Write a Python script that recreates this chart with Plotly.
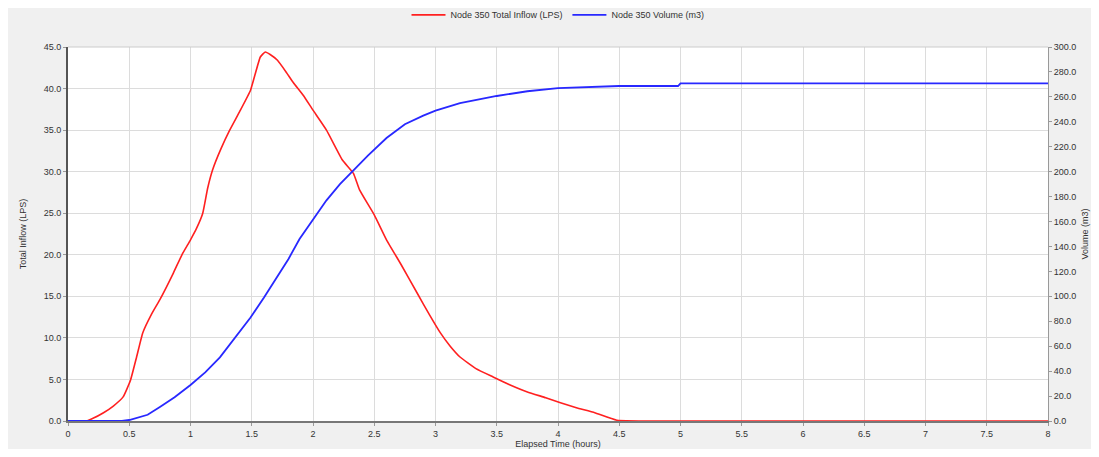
import plotly.graph_objects as go

# Node inflow (LPS) vs elapsed time (hours)
t_inflow = [0, 0.15, 0.2, 0.29, 0.37, 0.45, 0.51, 0.56, 0.61, 0.68, 0.75, 0.86, 0.93, 1.0, 1.05,
            1.10, 1.14, 1.18, 1.25, 1.32, 1.40, 1.49, 1.57, 1.61, 1.65, 1.71, 1.78, 1.84, 1.92,
            2.0, 2.11, 2.24, 2.33, 2.38, 2.5, 2.6, 2.72, 2.85, 2.95, 3.04, 3.12, 3.2, 3.33,
            3.47, 3.6, 3.75, 3.9, 4.02, 4.15, 4.3, 4.48, 5, 6, 7, 8]
inflow = [0, 0, 0.3, 1.0, 1.8, 2.9, 4.9, 7.7, 10.6, 12.8, 14.6, 17.8, 20.0, 21.8, 23.2,
          25.0, 28.0, 30.2, 32.8, 35.0, 37.2, 39.8, 43.8, 44.4, 44.1, 43.4, 42.0, 40.7, 39.2,
          37.4, 35.0, 31.4, 29.8, 27.8, 24.8, 21.8, 18.8, 15.4, 12.8, 10.6, 9.0, 7.7, 6.3,
          5.3, 4.4, 3.5, 2.8, 2.2, 1.6, 1.0, 0.1, 0, 0, 0, 0]

# Node volume (m3) vs elapsed time (hours)
t_volume = [0, 0.44, 0.5, 0.55, 0.65, 0.75, 0.87, 1.0, 1.12, 1.24, 1.36, 1.49, 1.6, 1.71, 1.8,
            1.89, 2.0, 2.11, 2.22, 2.33, 2.45, 2.6, 2.75, 2.9, 3.0, 3.2, 3.5, 3.75, 4.0, 4.5,
            4.98, 5.0, 8]
volume = [0, 0, 0.8, 2, 5, 11.2, 19, 28.9, 39, 51, 66, 83, 99, 115.5, 130, 146, 162, 177, 190,
          201, 213, 227, 238, 245, 249, 255, 260.7, 264.5, 267, 268.7, 268.7, 270.8, 270.8]

x_ticks = [i * 0.5 for i in range(17)]
x_labels = ["0", "0.5", "1", "1.5", "2", "2.5", "3", "3.5", "4", "4.5", "5", "5.5", "6",
            "6.5", "7", "7.5", "8"]
y_ticks = [i * 5 for i in range(10)]
y_labels = [f"{v:.1f}" for v in y_ticks]
y2_ticks = [i * 20 for i in range(16)]
y2_labels = [f"{v:.1f}" for v in y2_ticks]

font = dict(family="Liberation Sans, Arial, sans-serif", size=9, color="#333333")

fig = go.Figure()
fig.add_trace(go.Scatter(x=t_inflow, y=inflow, mode="lines", name="Node 350 Total Inflow (LPS)",
                         line=dict(color="#ff2020", width=1.6, shape="spline", smoothing=0.4)))
fig.add_trace(go.Scatter(x=t_volume, y=volume, mode="lines", name="Node 350 Volume (m3)",
                         yaxis="y2",
                         line=dict(color="#2828ff", width=1.8, shape="linear")))

fig.update_layout(
    width=1083, height=441,
    margin=dict(l=60, r=43, t=39, b=28, autoexpand=False),
    paper_bgcolor="#f0f0f0",
    plot_bgcolor="#ffffff",
    font=font,
    showlegend=True,
    legend=dict(orientation="h", x=0.5, xanchor="center", y=1.086, yanchor="middle",
                bgcolor="rgba(0,0,0,0)", font=dict(size=9, color="#333333"),
                itemwidth=34),
    xaxis=dict(range=[0, 8], tickvals=x_ticks, ticktext=x_labels, showgrid=True,
               gridcolor="#dcdcdc", gridwidth=1, zeroline=False, showline=True,
               linecolor="#777777", linewidth=2, ticks="outside", ticklen=3,
               tickcolor="#999999", automargin=False,
               title=dict(text="Elapsed Time (hours)", font=dict(size=9, color="#333333"),
                          standoff=2)),
    yaxis=dict(range=[0, 45], tickvals=y_ticks, ticktext=y_labels, showgrid=True,
               gridcolor="#dcdcdc", gridwidth=1, zeroline=False, showline=True,
               linecolor="#555555", linewidth=2, ticks="outside", ticklen=3,
               tickcolor="#999999", automargin=False,
               title=dict(text="Total Inflow (LPS)", font=dict(size=9, color="#333333"),
                          standoff=16)),
    yaxis2=dict(range=[0, 300], tickvals=y2_ticks, ticktext=y2_labels, overlaying="y",
                side="right", showgrid=False, zeroline=False, showline=True,
                linecolor="#999999", linewidth=1, ticks="outside", ticklen=3,
                tickcolor="#999999", automargin=False,
                title=dict(text="Volume (m3)", font=dict(size=9, color="#333333"),
                           standoff=6)),
    shapes=[dict(type="line", xref="paper", yref="paper", x0=0, x1=1, y0=1, y1=1,
                 line=dict(color="#cccccc", width=1))],
)

fig.write_html("out.html")
